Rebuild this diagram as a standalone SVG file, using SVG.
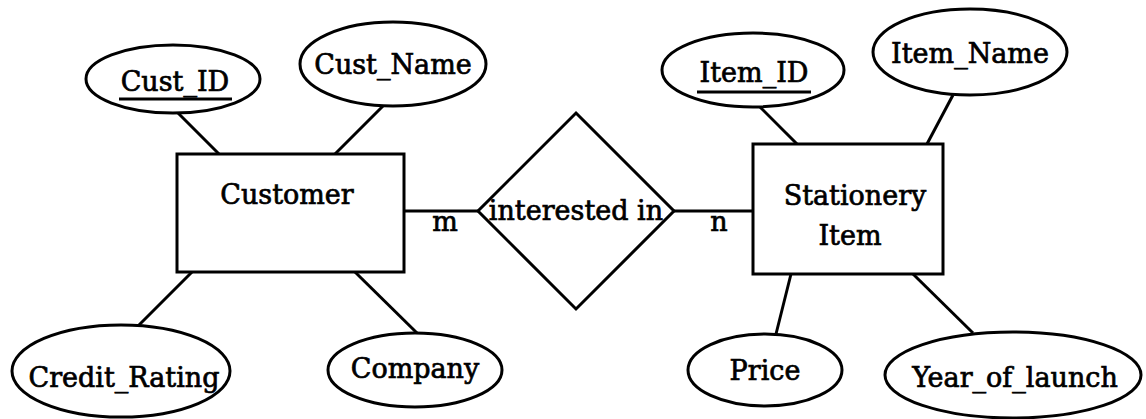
<svg xmlns="http://www.w3.org/2000/svg" width="1146" height="419" viewBox="0 0 1146 419">
<style>
.s{fill:none;stroke:#000;stroke-width:3;stroke-linejoin:miter}
.n{fill:#fff;stroke:#000;stroke-width:3}
text{font-family:"DejaVu Serif","Liberation Serif",serif;font-size:27px;fill:#000;stroke:#000;stroke-width:0.7;text-anchor:middle}
.u{stroke:#000;stroke-width:3}
</style>
<rect width="1146" height="419" fill="#fff"/>
<g id="connectors">
<line class="s" x1="178" y1="113" x2="219" y2="154"/>
<line class="s" x1="383" y1="106" x2="335" y2="154"/>
<line class="s" x1="192" y1="272" x2="137" y2="327"/>
<line class="s" x1="355" y1="272" x2="417" y2="333"/>
<line class="s" x1="404" y1="211" x2="478" y2="211"/>
<line class="s" x1="674" y1="211" x2="753" y2="211"/>
<line class="s" x1="760" y1="107" x2="797" y2="144"/>
<line class="s" x1="953" y1="95" x2="927" y2="144"/>
<line class="s" x1="791" y1="274" x2="776" y2="334"/>
<line class="s" x1="913" y1="274" x2="973" y2="333"/>
<text x="445" y="231">m</text>
<text x="719" y="231">n</text>
</g>
<g id="customer">
<rect class="n" x="177" y="154" width="227" height="118"/>
<text x="287" y="204">Customer</text>
</g>
<g id="interested_in">
<polygon class="n" points="576,113 674,211 576,309 478,211"/>
<text x="576" y="220">interested in</text>
</g>
<g id="stationery_item">
<rect class="n" x="753" y="144" width="190" height="130"/>
<text x="855" y="205">Stationery</text>
<text x="850" y="245">Item</text>
</g>
<g id="cust_id">
<ellipse class="n" cx="173" cy="79" rx="87" ry="34"/>
<text x="175" y="91">Cust_ID</text>
<line class="u" x1="119" y1="99" x2="232" y2="99"/>
</g>
<g id="cust_name">
<ellipse class="n" cx="393" cy="64" rx="93" ry="42"/>
<text x="393" y="74">Cust_Name</text>
</g>
<g id="credit_rating">
<ellipse class="n" cx="121" cy="371" rx="109" ry="46"/>
<text x="124" y="387">Credit_Rating</text>
</g>
<g id="company">
<ellipse class="n" cx="415" cy="370" rx="87" ry="37"/>
<text x="415" y="378">Company</text>
</g>
<g id="item_id">
<ellipse class="n" cx="753" cy="70" rx="91" ry="37"/>
<text x="754" y="82">Item_ID</text>
<line class="u" x1="697" y1="92" x2="811" y2="92"/>
</g>
<g id="item_name">
<ellipse class="n" cx="970" cy="52" rx="97" ry="43"/>
<text x="970" y="63">Item_Name</text>
</g>
<g id="price">
<ellipse class="n" cx="765" cy="370" rx="77" ry="36"/>
<text x="765" y="380">Price</text>
</g>
<g id="year_of_launch">
<ellipse class="n" cx="1013" cy="375" rx="128" ry="43"/>
<text x="1015" y="387">Year_of_launch</text>
</g>
</svg>
